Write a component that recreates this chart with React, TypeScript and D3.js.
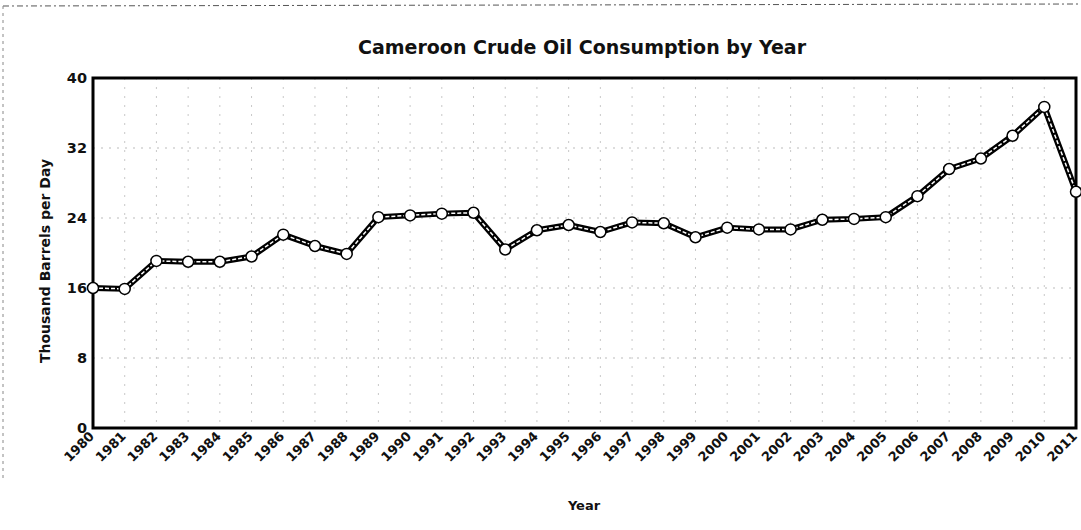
import React from "react";
import * as d3 from "d3";

const years: number[] = [1980,1981,1982,1983,1984,1985,1986,1987,1988,1989,1990,1991,1992,1993,1994,1995,1996,1997,1998,1999,2000,2001,2002,2003,2004,2005,2006,2007,2008,2009,2010,2011];
const consumption: number[] = [16.0,15.9,19.1,19.0,19.0,19.6,22.1,20.8,19.9,24.1,24.3,24.5,24.6,20.4,22.6,23.2,22.4,23.5,23.4,21.8,22.9,22.7,22.7,23.8,23.9,24.1,26.5,29.6,30.8,33.4,36.7,27.0];
const yTicks: number[] = [0, 8, 16, 24, 32, 40];
const title = "Cameroon Crude Oil Consumption by Year";
const yLabel = "Thousand Barrels per Day";
const xLabel = "Year";

const W = 1081, H = 530;
const M = { left: 93, right: 1076, top: 78, bottom: 428 };
const FONT = "'DejaVu Sans', Verdana, sans-serif";

export default function App() {
  const x = d3.scaleLinear().domain([years[0], years[years.length - 1]]).range([M.left, M.right]);
  const y = d3.scaleLinear().domain([0, 40]).range([M.bottom, M.top]);
  const pts: [number, number][] = years.map((yr, i) => [x(yr), y(consumption[i])]);
  const line = d3.line<[number, number]>().x(d => d[0]).y(d => d[1]);
  const path = line(pts) || "";

  return (
    <svg width={W} height={H} style={{ position: "absolute", left: 0, top: 0, background: "#fff" }}>
      <rect x={0} y={0} width={W} height={H} fill="#fff" />
      {/* scanned page frame */}
      <line x1={3} y1={6} x2={W} y2={4} stroke="#555" strokeWidth={1} strokeDasharray="6,3,2,3" />
      <line x1={3} y1={6} x2={3} y2={480} stroke="#888" strokeWidth={1} strokeDasharray="3,4" />

      <text x={582} y={54} textAnchor="middle" fontFamily={FONT} fontWeight="bold" fontSize={19} fill="#111">{title}</text>

      {/* grid */}
      {yTicks.filter(t => t > 0 && t < 40).map(t => (
        <line key={"gy" + t} x1={M.left} x2={M.right} y1={y(t)} y2={y(t)} stroke="#bbb" strokeWidth={1} strokeDasharray="2,6" />
      ))}
      {years.slice(1, -1).map(yr => (
        <line key={"gx" + yr} x1={x(yr)} x2={x(yr)} y1={M.top} y2={M.bottom} stroke="#c8c8c8" strokeWidth={1} strokeDasharray="2,7" />
      ))}

      {/* frame */}
      <rect x={M.left} y={M.top} width={M.right - M.left} height={M.bottom - M.top} fill="none" stroke="#000" strokeWidth={3} />

      {/* y ticks */}
      {yTicks.map(t => (
        <text key={"yt" + t} x={M.left - 6} y={y(t) + 5} textAnchor="end" fontFamily={FONT} fontWeight="bold" fontSize={14.5} fill="#111">{t}</text>
      ))}
      <text transform={`translate(50,${(M.top + M.bottom) / 2 + 8}) rotate(-90)`} textAnchor="middle" fontFamily={FONT} fontWeight="bold" fontSize={14} fill="#111">{yLabel}</text>

      {/* x ticks */}
      {years.map(yr => (
        <text key={"xt" + yr} transform={`translate(${x(yr) + 2},${M.bottom + 9}) rotate(-45)`} textAnchor="end" fontFamily={FONT} fontWeight="bold" fontSize={13} fill="#111">{yr}</text>
      ))}
      <text x={584} y={510} textAnchor="middle" fontFamily={FONT} fontWeight="bold" fontSize={13} fill="#111">{xLabel}</text>

      {/* series */}
      <path d={path} fill="none" stroke="#000" strokeWidth={6} strokeLinejoin="round" />
      <path d={path} fill="none" stroke="#fff" strokeWidth={1.5} strokeDasharray="4,2" strokeLinejoin="round" />
      {pts.map((p, i) => (
        <circle key={"c" + i} cx={p[0]} cy={p[1]} r={5.5} fill="#fff" stroke="#000" strokeWidth={1.5} />
      ))}
    </svg>
  );
}
